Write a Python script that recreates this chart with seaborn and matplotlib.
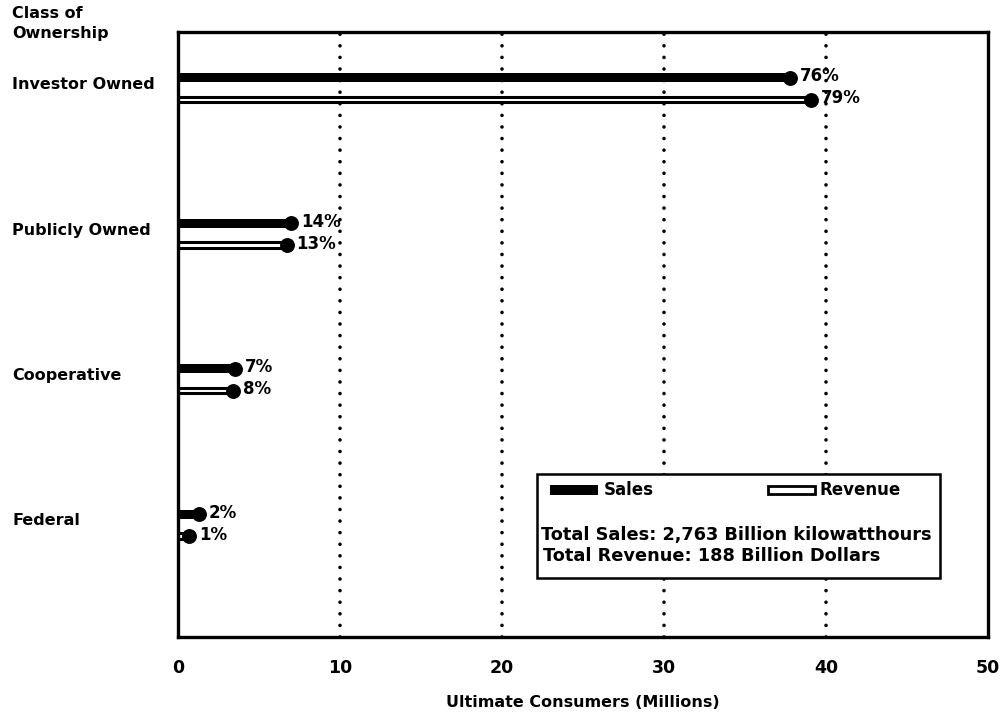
import matplotlib
matplotlib.use("Agg")
import matplotlib.pyplot as plt
import seaborn as sns
import pandas as pd
import numpy as np
from matplotlib.transforms import ScaledTranslation
from matplotlib.patches import Rectangle

categories = ["Investor Owned", "Publicly Owned", "Cooperative", "Federal"]
sales_values = [37.8, 7.0, 3.5, 1.3]
revenue_values = [39.1, 6.7, 3.4, 0.7]
sales_pct = ["76%", "14%", "7%", "2%"]
revenue_pct = ["79%", "13%", "8%", "1%"]
x_ticks = [0, 10, 20, 30, 40, 50]

sns.set_theme(style="white")
plt.rcParams['font.family'] = ['DejaVu Sans']
plt.rcParams['font.weight'] = 'bold'
plt.rcParams['text.color'] = 'black'
plt.rcParams['xtick.color'] = 'black'
plt.rcParams['ytick.color'] = 'black'
plt.rcParams['axes.labelcolor'] = 'black'

df = pd.DataFrame({
    "cat": categories * 2,
    "value": sales_values + revenue_values,
    "series": ["Sales"] * 4 + ["Revenue"] * 4,
    "pct": sales_pct + revenue_pct,
})
df["pos"] = np.tile(np.arange(len(categories)), 2).astype(float)
off = 0.075
df["ypos"] = df["pos"] + np.where(df["series"] == "Sales", -off, off)

fig = plt.figure(figsize=(10.04, 7.14), dpi=100)
ax = fig.add_axes([0.1773, 0.1078, 0.984 - 0.1773, 0.9552 - 0.1078])

sns.barplot(data=df, x="value", y="cat", hue="series", orient="h",
            width=4 * off, dodge=True, ax=ax, legend=False,
            palette={"Sales": "black", "Revenue": "white"}, saturation=1)
for p in ax.patches:
    c = p.get_y() + p.get_height() / 2
    if np.allclose(p.get_facecolor()[:3], (1, 1, 1)):
        h = 0.036
        p.set_edgecolor("black")
        p.set_linewidth(2.2)
    else:
        h = 0.062
        p.set_edgecolor("black")
        p.set_linewidth(0)
    p.set_height(h)
    p.set_y(c - h / 2)

sns.scatterplot(data=df, x="value", y="ypos", color="black", s=115,
                edgecolor="black", linewidth=0, ax=ax, legend=False, zorder=5)

for _, r in df.iterrows():
    ax.annotate(r["pct"], (r["value"], r["ypos"]), xytext=(7, 1),
                textcoords="offset points", ha="left", va="center",
                fontsize=12, fontweight="bold", color="black")

ax.set_xlim(0, 50)
ax.set_ylim(3.77, -0.39)
ax.set_xticks(x_ticks)
ax.set_xticklabels([str(t) for t in x_ticks], fontsize=12.5, fontweight="bold")
ax.set_yticks(range(len(categories)))
ax.set_yticklabels(categories, fontsize=11.5, fontweight="bold")
ax.tick_params(axis="y", length=0, pad=119.5)
ax.tick_params(axis="x", length=0, pad=16)
for lab in ax.get_yticklabels():
    lab.set_horizontalalignment("left")
    lab.set_transform(lab.get_transform() + ScaledTranslation(0, 4 / 72, fig.dpi_scale_trans))
ax.set_ylabel("")
ax.set_xlabel("Ultimate Consumers (Millions)", fontsize=11.5, fontweight="bold", labelpad=13)

for x in [10, 20, 30, 40]:
    ax.axvline(x, color="black", lw=2.6, linestyle=(0, (0.01, 3.2)),
               dash_capstyle="round", zorder=0)

for s in ax.spines.values():
    s.set_visible(True)
    s.set_color("black")
    s.set_linewidth(2.4)

fig.text(12 / 1004, 1 - 6 / 714, "Class of\nOwnership", ha="left", va="top",
         fontsize=11.5, fontweight="bold", linespacing=1.4)

tr = ax.transAxes
bx0, bx1 = (537 - 178) / 810, (940 - 178) / 810
by0, by1 = (637 - 578) / 605, (637 - 474) / 605
ax.add_patch(Rectangle((bx0, by0), bx1 - bx0, by1 - by0, transform=tr,
                       facecolor="white", edgecolor="black", lw=1.8, zorder=6))
ly = (637 - 490) / 605
ax.add_patch(Rectangle(((550 - 178) / 810, ly - 0.009), 48 / 810, 0.018, transform=tr,
                       facecolor="black", edgecolor="black", lw=0, zorder=7))
ax.add_patch(Rectangle(((768 - 178) / 810, ly - 0.006), 47 / 810, 0.012, transform=tr,
                       facecolor="white", edgecolor="black", lw=2, zorder=7))
ax.text((604 - 178) / 810, ly, "Sales", transform=tr, ha="left", va="center",
        fontsize=12, fontweight="bold", zorder=8)
ax.text((820 - 178) / 810, ly, "Revenue", transform=tr, ha="left", va="center",
        fontsize=12, fontweight="bold", zorder=8)
ax.text((541 - 178) / 810, (637 - 535) / 605, "Total Sales: 2,763 Billion kilowatthours",
        transform=tr, ha="left", va="center", fontsize=12.8, fontweight="bold", zorder=8)
ax.text((543 - 178) / 810, (637 - 556) / 605, "Total Revenue: 188 Billion Dollars",
        transform=tr, ha="left", va="center", fontsize=12.8, fontweight="bold", zorder=8)

fig.savefig("out.png", dpi=100)
